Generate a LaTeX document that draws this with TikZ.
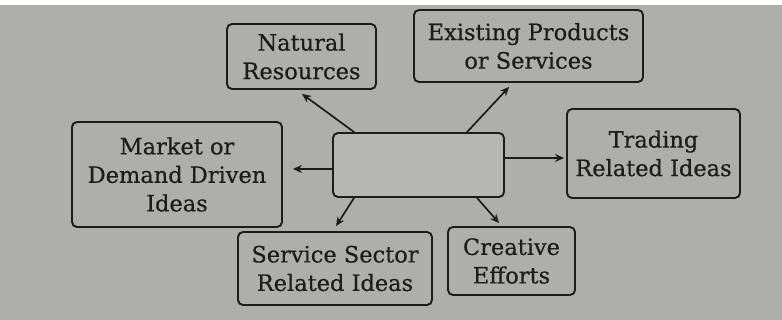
\documentclass[tikz,border=0pt]{standalone}
\usepackage{fontspec}
\setmainfont{DejaVu Serif}[FakeBold=0.5]
\usetikzlibrary{calc,arrows.meta}
\definecolor{paper}{RGB}{174,174,172}
\definecolor{ink}{RGB}{28,28,28}
\definecolor{cbox}{RGB}{182,182,180}
\tikzset{
  box/.style={draw=ink, line width=1.9pt, rounded corners=5pt, fill=paper,
    align=center, text=ink, inner sep=0pt,
    font=\fontsize{22.5}{28.5}\selectfont},
  arr/.style={draw=ink, line width=1.7pt, -{Stealth[length=9pt,width=8pt]}}
}
\begin{document}
\begin{tikzpicture}[x=1pt,y=-1pt]
\useasboundingbox (0,0) rectangle (782,320);
\fill[paper] (0,0) rectangle (782,320);
\fill[white] (0,0) rectangle (782,5);
\node[box, minimum width=149pt, minimum height=65pt] (nat) at (301.5,56.5) {Natural\\Resources};
\node[box, minimum width=229pt, minimum height=72pt] (ex) at (528.5,46) {Existing Products\\or Services};
\node[box, minimum width=210pt, minimum height=105pt] (mk) at (177,174.5) {Market or\\Demand Driven\\Ideas};
\node[box, fill=cbox, minimum width=171pt, minimum height=64pt] (c) at (418.5,165) {};
\node[box, minimum width=173pt, minimum height=89pt] (tr) at (653.5,153.5) {Trading\\Related Ideas};
\node[box, minimum width=194pt, minimum height=73pt] (svc) at (335,268.5) {Service Sector\\Related Ideas};
\node[box, minimum width=127pt, minimum height=68pt] (cr) at (511.5,261) {Creative\\Efforts};
\draw[arr] ($(c.north west)+(22,0)$) -- ($(nat.south west)+(76,4)$);
\draw[arr] ($(c.north west)+(135,0)$) -- ($(ex.south west)+(96,4)$);
\draw[arr] ($(c.west)+(0,4)$) -- ($(mk.east)+(10,-5.5)$);
\draw[arr] ($(c.east)+(0,-7)$) -- ($(tr.west)+(-2,4.5)$);
\draw[arr] ($(c.south west)+(22,0)$) -- ($(svc.north west)+(99,-5)$);
\draw[arr] ($(c.south west)+(145,0)$) -- ($(cr.north west)+(52,-3)$);
\end{tikzpicture}
\end{document}
